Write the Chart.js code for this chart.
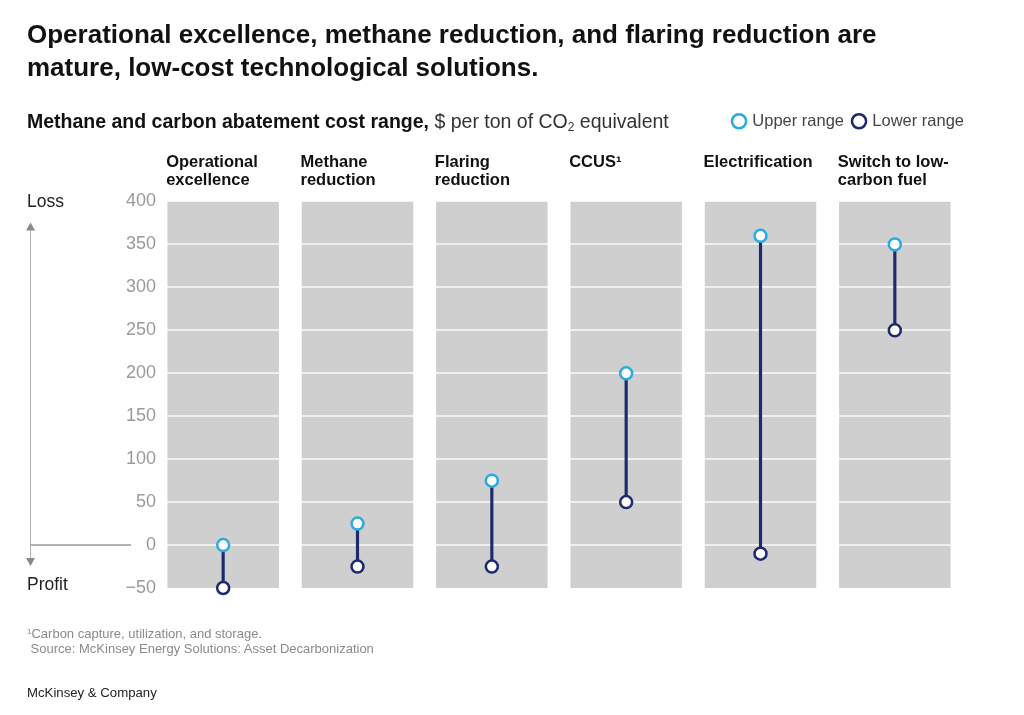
<!DOCTYPE html>
<html>
<head>
<meta charset="utf-8">
<script src="https://cdn.jsdelivr.net/npm/chart.js@4/dist/chart.umd.min.js"></script>
<style>
  html, body { margin: 0; padding: 0; background: #fff; }
  body { width: 1024px; height: 715px; position: relative; overflow: hidden; font-family: "Liberation Sans", Arial, sans-serif; color: #111; }
  #wrap { position: absolute; left: 0; top: 0; width: 1024px; height: 715px; }
  .title { position: absolute; left: 27px; top: 18px; font-size: 26px; font-weight: bold; line-height: 33px; color: #111; }
  .sub { position: absolute; left: 27px; top: 110px; font-size: 19.5px; line-height: 22px; color: #111; }
  .sub b { font-weight: bold; }
  .sub span { color: #333; }
  .sub sub { font-size: 12px; vertical-align: -3px; line-height: 0; }
  .note { position: absolute; left: 27px; top: 626px; font-size: 13px; line-height: 15px; color: #8a8a8a; }
  .note sup { font-size: 8px; vertical-align: 4px; line-height: 0; }
  .brand { position: absolute; left: 27px; top: 685px; font-size: 13.2px; color: #222; }
</style>
</head>
<body>
<div id="wrap"><canvas id="c" width="1024" height="715"></canvas></div>
<div class="title">Operational excellence, methane reduction, and flaring reduction are<br>mature, low-cost technological solutions.</div>
<div class="sub"><b>Methane and carbon abatement cost range,</b> <span>$ per ton of CO<sub>2</sub> equivalent</span></div>
<div class="note"><sup>1</sup>Carbon capture, utilization, and storage.<br>&nbsp;Source: McKinsey Energy Solutions: Asset Decarbonization</div>
<div class="brand">McKinsey &amp; Company</div>
<script>
// data
const categories = [
  ['Operational', 'excellence'],
  ['Methane', 'reduction'],
  ['Flaring', 'reduction'],
  ['CCUS\u00B9'],
  ['Electrification'],
  ['Switch to low-', 'carbon fuel']
];
const upperRange = [0, 25, 75, 200, 360, 350];
const lowerRange = [-50, -25, -25, 50, -10, 250];
const yMin = -50, yMax = 400, yStep = 50;

const blue = '#29abe2';
const navy = '#1c2a6e';
const panelGrey = '#cfcfcf';
const font = '"Liberation Sans", Arial, sans-serif';

const decor = {
  id: 'decor',
  afterDatasetDraw(chart, args) {
    if (args.index !== 0) return;
    const { ctx, chartArea, scales: { y } } = chart;
    ctx.save();
    ctx.strokeStyle = 'rgba(255,255,255,0.9)';
    ctx.lineWidth = 1.5;
    y.ticks.forEach(t => {
      if (t.value <= y.min || t.value >= y.max) return;
      const py = Math.round(y.getPixelForValue(t.value));
      ctx.beginPath();
      ctx.moveTo(chartArea.left, py);
      ctx.lineTo(chartArea.right, py);
      ctx.stroke();
    });
    ctx.restore();
  },
  afterDraw(chart) {
    const { ctx, scales: { y } } = chart;
    const top = y.getPixelForValue(yMax), bottom = y.getPixelForValue(yMin), zero = y.getPixelForValue(0);
    ctx.save();
    // zero line on the left
    ctx.strokeStyle = '#9a9a9a';
    ctx.lineWidth = 1.5;
    ctx.beginPath(); ctx.moveTo(30, zero); ctx.lineTo(131, zero); ctx.stroke();
    // loss / profit arrow
    ctx.strokeStyle = '#b0b0b0';
    ctx.lineWidth = 1;
    ctx.beginPath(); ctx.moveTo(30.5, top + 26); ctx.lineTo(30.5, bottom - 26); ctx.stroke();
    ctx.fillStyle = '#8a8a8a';
    ctx.beginPath(); ctx.moveTo(30.5, top + 21); ctx.lineTo(26, top + 29); ctx.lineTo(35, top + 29); ctx.fill();
    ctx.beginPath(); ctx.moveTo(30.5, bottom - 22); ctx.lineTo(26, bottom - 30); ctx.lineTo(35, bottom - 30); ctx.fill();
    ctx.fillStyle = '#222';
    ctx.font = '17.5px ' + font;
    ctx.textBaseline = 'middle';
    ctx.fillText('Loss', 27, top + 1);
    ctx.fillText('Profit', 27, bottom - 3);
    ctx.restore();
  }
};

new Chart(document.getElementById('c'), {
  type: 'bar',
  data: {
    labels: categories,
    datasets: [
      {
        label: 'panel',
        data: categories.map(() => [yMin, yMax]),
        backgroundColor: panelGrey,
        barPercentage: 0.83,
        categoryPercentage: 1,
        grouped: false,
        order: 10
      },
      {
        label: 'range',
        data: upperRange.map((u, i) => [lowerRange[i], u]),
        backgroundColor: navy,
        barThickness: 2.5,
        grouped: false,
        order: 5
      },
      {
        type: 'line',
        label: 'Upper range',
        data: upperRange,
        showLine: false,
        pointRadius: 6,
        pointBorderWidth: 2.5,
        pointBackgroundColor: '#fff',
        pointBorderColor: blue,
        borderColor: blue,
        backgroundColor: '#fff',
        clip: false,
        order: 1
      },
      {
        type: 'line',
        label: 'Lower range',
        data: lowerRange,
        showLine: false,
        pointRadius: 6,
        pointBorderWidth: 2.5,
        pointBackgroundColor: '#fff',
        pointBorderColor: navy,
        borderColor: navy,
        backgroundColor: '#fff',
        clip: false,
        order: 0
      }
    ]
  },
  options: {
    responsive: false,
    animation: false,
    layout: { padding: { left: 0, right: 50, top: 103, bottom: 127 } },
    plugins: {
      tooltip: { enabled: false },
      legend: {
        position: 'top',
        align: 'end',
        labels: {
          filter: item => item.text === 'Upper range' || item.text === 'Lower range',
          sort: (a, b) => a.datasetIndex - b.datasetIndex,
          usePointStyle: true,
          pointStyle: 'circle',
          boxWidth: 10,
          boxHeight: 10,
          padding: 10,
          color: '#444',
          font: { family: font, size: 16.5 }
        }
      }
    },
    scales: {
      x: {
        position: 'top',
        grid: { display: false },
        border: { display: false },
        ticks: {
          autoSkip: false,
          maxRotation: 0,
          align: 'start',
          crossAlign: 'far',
          labelOffset: -57,
          padding: 4,
          color: '#111',
          font: { family: font, size: 16.5, weight: 'bold', lineHeight: 1.09 }
        },
        afterFit(scale) { scale.height = 62; }
      },
      y: {
        min: yMin,
        max: yMax,
        grid: { display: false, drawTicks: false },
        border: { display: false },
        ticks: {
          stepSize: yStep,
          padding: 0,
          color: '#9a9a9a',
          font: { family: font, size: 18 },
          callback: v => String(v).replace('-', '\u2212')
        },
        afterFit(scale) { scale.width = 156; }
      },
      // empty spacer on the right so the legend ends a little past the panels
      y2: {
        position: 'right',
        grid: { display: false },
        border: { display: false },
        ticks: { display: false },
        afterFit(scale) { scale.width = 12; }
      }
    }
  },
  plugins: [decor]
});
</script>
</body>
</html>
